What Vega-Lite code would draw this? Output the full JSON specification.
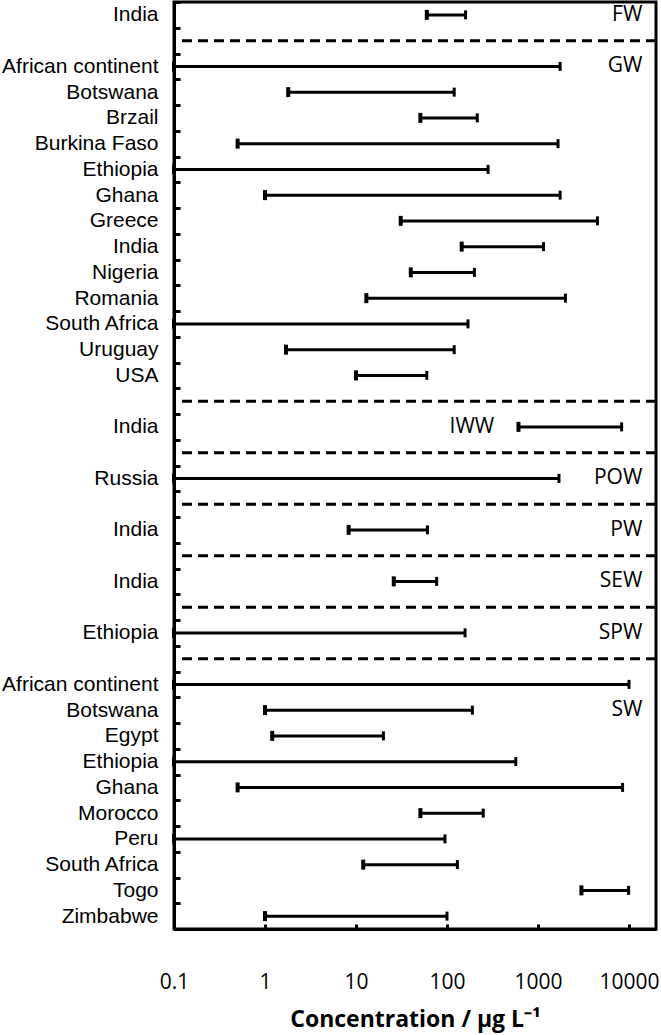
{
  "$schema": "https://vega.github.io/schema/vega-lite/v6.json",
  "width": 482,
  "height": 927,
  "autosize": {"type": "none"},
  "padding": {"left": 174, "top": 2, "right": 5, "bottom": 106},
  "background": "white",
  "config": {
    "view": {"stroke": "#000", "strokeWidth": 3},
    "axis": {"domainColor": "#000", "domainWidth": 3, "tickColor": "#000", "grid": false}
  },
  "datasets": {
    "bars": [
      {"key": "FW|India", "lo": 60, "hi": 160},
      {"key": "GW|African continent", "lo": 0.1, "hi": 1750},
      {"key": "GW|Botswana", "lo": 1.8, "hi": 120},
      {"key": "GW|Brzail", "lo": 51, "hi": 215},
      {"key": "GW|Burkina Faso", "lo": 0.5, "hi": 1660},
      {"key": "GW|Ethiopia", "lo": 0.1, "hi": 283},
      {"key": "GW|Ghana", "lo": 1, "hi": 1750},
      {"key": "GW|Greece", "lo": 31, "hi": 4500},
      {"key": "GW|India", "lo": 145, "hi": 1150},
      {"key": "GW|Nigeria", "lo": 40, "hi": 200},
      {"key": "GW|Romania", "lo": 13, "hi": 2000},
      {"key": "GW|South Africa", "lo": 0.1, "hi": 170},
      {"key": "GW|Uruguay", "lo": 1.7, "hi": 120},
      {"key": "GW|USA", "lo": 10, "hi": 60},
      {"key": "IWW|India", "lo": 610, "hi": 8300},
      {"key": "POW|Russia", "lo": 0.1, "hi": 1700},
      {"key": "PW|India", "lo": 8.3, "hi": 61},
      {"key": "SEW|India", "lo": 26, "hi": 77},
      {"key": "SPW|Ethiopia", "lo": 0.1, "hi": 158},
      {"key": "SW|African continent", "lo": 0.1, "hi": 10000},
      {"key": "SW|Botswana", "lo": 1, "hi": 190},
      {"key": "SW|Egypt", "lo": 1.2, "hi": 20},
      {"key": "SW|Ethiopia", "lo": 0.1, "hi": 570},
      {"key": "SW|Ghana", "lo": 0.5, "hi": 8500},
      {"key": "SW|Morocco", "lo": 51, "hi": 250},
      {"key": "SW|Peru", "lo": 0.1, "hi": 95},
      {"key": "SW|South Africa", "lo": 12, "hi": 130},
      {"key": "SW|Togo", "lo": 3000, "hi": 9900},
      {"key": "SW|Zimbabwe", "lo": 1, "hi": 100}
    ],
    "gaps": [
      {"key": "gap1"}, {"key": "gap2"}, {"key": "gap3"}, {"key": "gap4"},
      {"key": "gap5"}, {"key": "gap6"}, {"key": "gap7"}
    ],
    "groups": [
      {"key": "FW|India", "name": "FW", "pos": 14000},
      {"key": "GW|African continent", "name": "GW", "pos": 14000},
      {"key": "IWW|India", "name": "IWW", "pos": 330},
      {"key": "POW|Russia", "name": "POW", "pos": 14000},
      {"key": "PW|India", "name": "PW", "pos": 14000},
      {"key": "SEW|India", "name": "SEW", "pos": 14000},
      {"key": "SPW|Ethiopia", "name": "SPW", "pos": 14000},
      {"key": "SW|Botswana", "name": "SW", "pos": 14000}
    ]
  },
  "encoding": {
    "y": {
      "field": "key",
      "type": "nominal",
      "scale": {
        "domain": [
          "FW|India", "gap1",
          "GW|African continent", "GW|Botswana", "GW|Brzail", "GW|Burkina Faso", "GW|Ethiopia", "GW|Ghana", "GW|Greece", "GW|India", "GW|Nigeria", "GW|Romania", "GW|South Africa", "GW|Uruguay", "GW|USA", "gap2",
          "IWW|India", "gap3",
          "POW|Russia", "gap4",
          "PW|India", "gap5",
          "SEW|India", "gap6",
          "SPW|Ethiopia", "gap7",
          "SW|African continent", "SW|Botswana", "SW|Egypt", "SW|Ethiopia", "SW|Ghana", "SW|Morocco", "SW|Peru", "SW|South Africa", "SW|Togo", "SW|Zimbabwe"
        ],
        "paddingInner": 0,
        "paddingOuter": 0
      },
      "axis": {
        "title": null,
        "tickBand": "extent",
        "tickSize": -6,
        "tickWidth": 3,
        "labelPadding": 22,
        "labelFont": "Liberation Sans",
        "labelFontSize": 21,
        "labelColor": "#000",
        "labelExpr": "indexof(datum.label, '|') >= 0 ? split(datum.label, '|')[1] : ''"
      }
    }
  },
  "layer": [
    {
      "data": {"name": "gaps"},
      "mark": {"type": "rule", "stroke": "#000", "strokeWidth": 3, "strokeDash": [10, 6]},
      "encoding": {}
    },
    {
      "data": {"name": "bars"},
      "mark": {"type": "rule", "stroke": "#000", "strokeWidth": 3},
      "encoding": {
        "x": {
          "field": "lo",
          "type": "quantitative",
          "scale": {"type": "log", "domain": [0.1, 19800], "nice": false},
          "axis": {
            "title": "Concentration / µg L⁻¹",
            "values": [0.1, 1, 10, 100, 1000, 10000],
            "format": "~g",
            "labelFlush": false,
            "tickSize": -5,
            "tickWidth": 3,
            "labelPadding": 47,
            "labelFont": "Open Sans",
            "labelFontSize": 21,
            "labelColor": "#000",
            "titleFont": "Open Sans",
            "titleFontSize": 23,
            "titleFontWeight": "bold",
            "titleColor": "#000",
            "titlePadding": 16
          }
        },
        "x2": {"field": "hi"}
      }
    },
    {
      "data": {"name": "bars"},
      "mark": {"type": "tick", "color": "#000", "thickness": 4, "size": 10, "opacity": 1},
      "encoding": {"x": {"field": "lo", "type": "quantitative"}}
    },
    {
      "data": {"name": "bars"},
      "mark": {"type": "tick", "color": "#000", "thickness": 3, "size": 9, "opacity": 1},
      "encoding": {"x": {"field": "hi", "type": "quantitative"}}
    },
    {
      "data": {"name": "groups"},
      "mark": {"type": "text", "align": "right", "baseline": "middle", "font": "Open Sans", "fontSize": 21, "color": "#000"},
      "encoding": {
        "x": {"field": "pos", "type": "quantitative"},
        "text": {"field": "name"}
      }
    }
  ]
}
